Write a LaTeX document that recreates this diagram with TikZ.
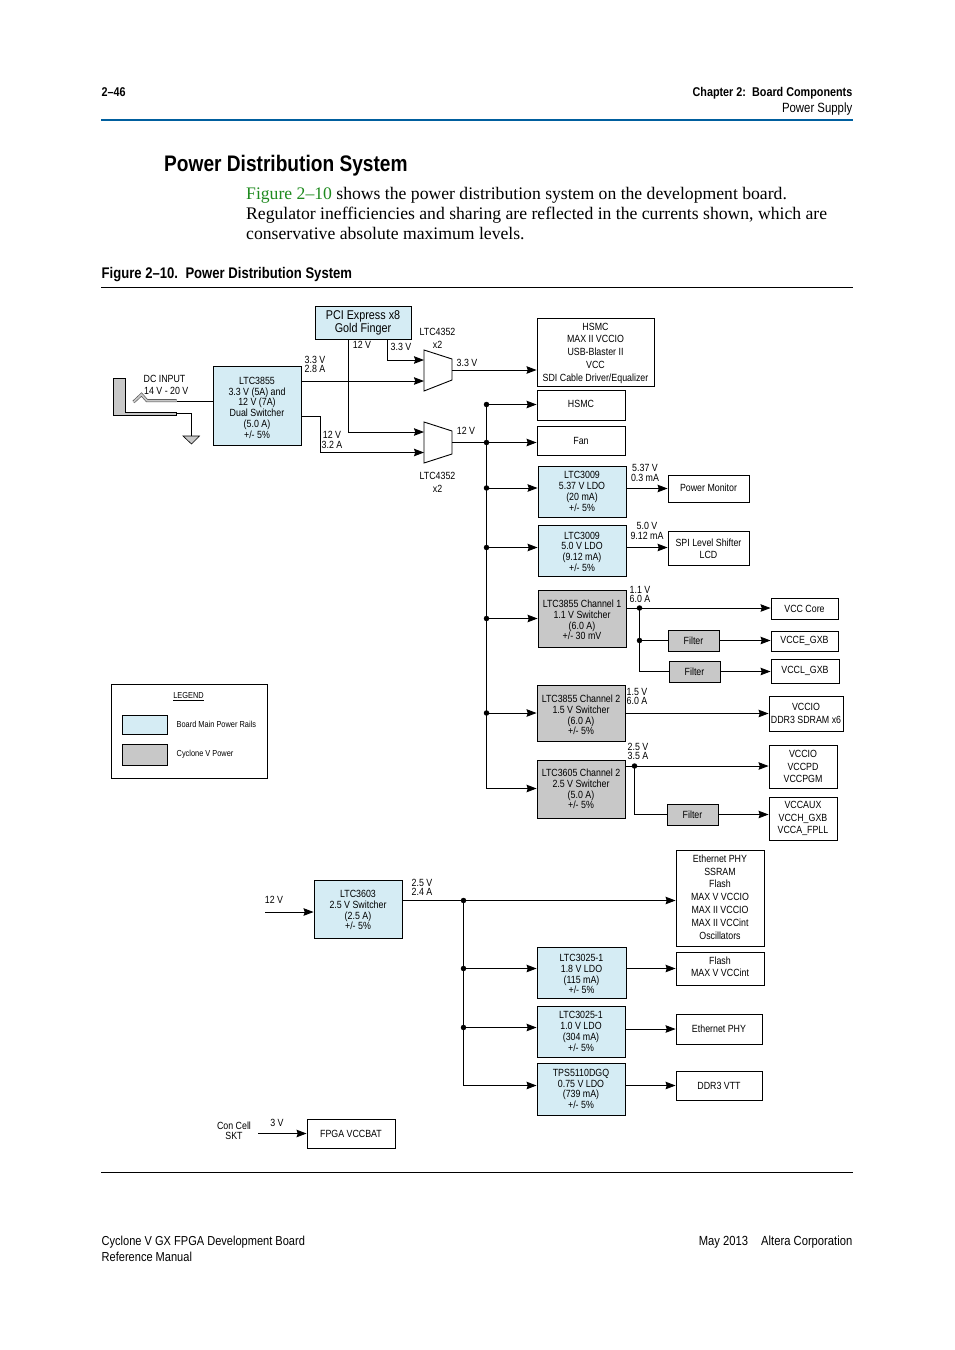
\documentclass[tikz,border=0pt]{standalone}
\usepackage{fontspec}
\setmainfont{Liberation Sans}[FakeStretch=0.85]
\newfontfamily\headfont{Liberation Sans Bold}[FakeStretch=0.85]
\newfontfamily\bodyfont{Liberation Serif}
\usetikzlibrary{arrows.meta}
\definecolor{railblue}{HTML}{D5ECF4}
\definecolor{fpgagray}{HTML}{C8C8C8}
\definecolor{rulefill}{HTML}{005F9E}
\definecolor{linkgreen}{HTML}{1E8A1E}
\tikzset{
  x=1pt,y=-1pt,
  box/.style={draw,line width=0.9pt,inner sep=0pt,align=center,font=\fontsize{10.4}{10.8}\selectfont},
  rail/.style={box,fill=railblue},
  cyc/.style={box,fill=fpgagray},
  wide/.style={font=\fontsize{10.4}{12.8}\selectfont},
  lbl/.style={inner sep=0pt,align=center,font=\fontsize{10.4}{9.6}\selectfont},
  wire/.style={line width=0.9pt},
  pwr/.style={wire,-{Stealth[length=10pt,width=7.5pt,inset=1.2pt]}},
  jdot/.style={circle,fill,inner sep=0pt,minimum size=5.5pt},
  pagetxt/.style={inner sep=0pt,anchor=base west},
}
\newcommand{\boxat}[7][rail]{\node[#1,minimum width=#4-#2,minimum height=#6-#5] (#3) at ({(#2+#4)/2},{(#5+#6)/2}) {#7};}
\newcommand{\dn}[1]{\rule{0pt}{#1}}
\newcommand{\up}[1]{\rule[-#1]{0pt}{#1}}
\begin{document}
\begin{tikzpicture}
\useasboundingbox (0,0) rectangle (954,1350);

\node[pagetxt,font=\headfont\fontsize{12.7}{13}\selectfont] (pageno) at (101.5,96) {2–46};
\node[pagetxt,anchor=base east,font=\headfont\fontsize{12.7}{13}\selectfont] (chap) at (852.5,96) {Chapter 2:\, Board Components};
\node[pagetxt,anchor=base east,font=\fontsize{13.4}{14}\selectfont] (sect) at (852.5,112) {Power Supply};
\coordinate (ruletl) at (101,120);
\coordinate (ruletr) at (853,120);
\draw[rulefill,line width=1.6pt] (ruletl) -- (ruletr);
\node[pagetxt,font=\headfont\fontsize{22.5}{25}\selectfont] (title) at (164,171) {Power Distribution System};
\node[pagetxt,font=\bodyfont\fontsize{17.65}{20}\selectfont] (para1) at (246,199) {\textcolor{linkgreen}{Figure 2–10} shows the power distribution system on the development board.};
\node[pagetxt,font=\bodyfont\fontsize{17.65}{20}\selectfont] (para2) at (246,219) {Regulator inefficiencies and sharing are reflected in the currents shown, which are};
\node[pagetxt,font=\bodyfont\fontsize{17.65}{20}\selectfont] (para3) at (246,239) {conservative absolute maximum levels.};
\node[pagetxt,font=\headfont\fontsize{15.4}{16}\selectfont] (figcap) at (101.5,278) {Figure 2–10.\, Power Distribution System};
\coordinate (rulecl) at (101,287);
\coordinate (rulecr) at (853,287);
\draw[wire] (rulecl) -- (rulecr);

\boxat[rail,font=\fontsize{12.7}{13}\selectfont]{315}{pcie}{411}{306}{339}{PCI Express x8\\Gold Finger}
\boxat{213}{ltcmain}{301}{366}{445}{\dn{11.5pt}LTC3855\\3.3 V (5A) and\\12 V (7A)\\Dual Switcher\\(5.0 A)\\+/- 5\%}
\boxat[box,wide]{537}{hsmcbig}{654}{318}{386}{\dn{9.5pt}HSMC\\MAX II VCCIO\\USB-Blaster II\\VCC\\SDI Cable Driver/Equalizer}
\boxat[box]{537}{hsmc}{625}{390}{420}{HSMC\up{2pt}}
\boxat[box]{537}{fan}{625}{426}{455}{Fan}
\boxat{538}{ldoa}{626}{466}{517}{LTC3009\\5.37 V LDO\\(20 mA)\\+/- 5\%}
\boxat[box]{668}{pwrmon}{749}{475}{502}{Power Monitor\up{2pt}}
\boxat{538}{ldob}{626}{525}{576}{\dn{9.5pt}LTC3009\\5.0 V LDO\\(9.12 mA)\\+/- 5\%}
\boxat[box,font=\fontsize{10.4}{12}\selectfont]{668}{spi}{749}{531}{565}{\dn{9.5pt}SPI Level Shifter\\LCD}
\boxat[cyc]{538}{chone}{626}{590}{647}{\dn{10.5pt}LTC3855 Channel 1\\1.1 V Switcher\\(6.0 A)\\+/- 30 mV}
\boxat[box]{771}{vcccore}{838}{598}{619}{VCC Core}
\boxat[cyc]{668}{filta}{719}{630}{651}{Filter}
\boxat[box]{771}{vcce}{838}{631}{651}{VCCE\_GXB}
\boxat[cyc]{669}{filtb}{720}{661}{682}{Filter}
\boxat[box]{771}{vccl}{839}{659}{683}{VCCL\_GXB}
\boxat[cyc]{537}{chtwo}{625}{685}{741}{\dn{11.5pt}LTC3855 Channel 2\\1.5 V Switcher\\(6.0 A)\\+/- 5\%}
\boxat[box,font=\fontsize{10.4}{12.8}\selectfont]{769}{ddrio}{843}{696}{731}{VCCIO\\DDR3 SDRAM x6}
\boxat[cyc]{537}{ltcsw}{625}{760}{818}{LTC3605 Channel 2\\2.5 V Switcher\\(5.0 A)\\+/- 5\%}
\boxat[box,wide]{769}{vccio}{837}{745}{788}{VCCIO\\VCCPD\\VCCPGM}
\boxat[box,wide]{769}{vccaux}{837}{797}{840}{VCCAUX\\VCCH\_GXB\\VCCA\_FPLL}
\boxat[cyc]{667}{filtc}{718}{804}{825}{Filter}

\boxat[box]{111}{legend}{267}{684}{778}{}
\boxat[rail]{122}{swblue}{167}{715}{734}{}
\boxat[cyc]{122}{swgray}{167}{744}{765}{}
\node[lbl,font=\fontsize{8.7}{9}\selectfont] (legtitle) at (188.5,696.5) {\underline{LEGEND}};
\node[lbl,anchor=west,font=\fontsize{8.7}{9}\selectfont] (legblue) at (176.5,724) {Board Main Power Rails};
\node[lbl,anchor=west,font=\fontsize{8.7}{9}\selectfont] (leggray) at (176.5,754) {Cyclone V Power};

\boxat[box,wide]{676}{ethlist}{764}{850}{946}{Ethernet PHY\\SSRAM\\Flash\\MAX V VCCIO\\MAX II VCCIO\\MAX II VCCint\\Oscillators\up{2pt}}
\boxat{314}{ltcthree}{402}{880}{938}{\dn{9.5pt}LTC3603\\2.5 V Switcher\\(2.5 A)\\+/- 5\%}
\boxat{537}{ldoc}{626}{947}{998}{\dn{10.5pt}LTC3025-1\\1.8 V LDO\\(115 mA)\\+/- 5\%}
\boxat[box,font=\fontsize{10.4}{12}\selectfont]{676}{flash}{764}{952}{985}{Flash\\MAX V VCCint\up{4pt}}
\boxat{537}{ldod}{625}{1006}{1057}{LTC3025-1\\1.0 V LDO\\(304 mA)\\+/- 5\%}
\boxat[box]{676}{ethphy}{762}{1014}{1044}{Ethernet PHY}
\boxat{537}{tps}{625}{1063}{1115}{TPS5110DGQ\\0.75 V LDO\\(739 mA)\\+/- 5\%}
\boxat[box]{676}{ddrvtt}{762}{1071}{1100}{DDR3 VTT}
\boxat[box]{307}{vccbat}{395}{1119}{1148}{FPGA VCCBAT}

\draw[wire] (424,350) coordinate (muxa) -- (452,359) -- (452,380) -- (424,391) -- cycle;
\draw[wire] (424,422) coordinate (muxb) -- (452,431) -- (452,454) -- (424,463) -- cycle;
\coordinate (muxaout) at (452,370);
\coordinate (muxbout) at (452,442.5);

\draw[black,fill=fpgagray,line width=0.9pt] (113.5,378.5) -- (125.5,378.5) -- (125.5,412) -- (176.5,412) -- (176.5,415.5) -- (113.5,415.5) -- cycle;
\draw[black!70,line width=3pt] (133.5,402) -- (141.5,394.5) -- (147,400.7) -- (176.5,400.7);
\draw[fpgagray,line width=1.8pt] (133.5,402) -- (141.5,394.5) -- (147,400.7) -- (176.5,400.7);
\coordinate (jacktip) at (176.5,401);
\coordinate (jackgnd) at (176.5,413.5);
\coordinate (gnd) at (191.5,436);
\draw[wire] (jacktip) -- (jacktip -| ltcmain.west);
\draw[wire] (jackgnd) -| (gnd);
\draw[black,fill=fpgagray,line width=0.6pt] (183,436) -- (199.5,436) -- (191.5,444) -- cycle;

\coordinate (pcitwelve) at (348,339);
\coordinate (pcithree) at (387,339);
\coordinate (inaa) at (424,360);
\coordinate (inab) at (424,381);
\coordinate (inba) at (424,432);
\coordinate (inbb) at (424,452.5);
\draw[pwr] (pcithree) |- (inaa);
\draw[pwr] (pcitwelve) |- (inba);
\draw[pwr] (inab -| ltcmain.east) -- (inab);
\coordinate (mainlow) at (301,416.5);
\draw[pwr] (mainlow) -- (320,416.5) |- (inbb);
\draw[pwr] (muxaout) -- (muxaout -| hsmcbig.west);

\node[jdot] (bushsmc) at (486.5,404.5) {};
\node[jdot] (busfan) at (486.5,442.5) {};
\node[jdot] (busldoa) at (486.5,488) {};
\node[jdot] (busldob) at (486.5,547.5) {};
\node[jdot] (busone) at (486.5,618.5) {};
\node[jdot] (bustwo) at (486.5,713) {};
\coordinate (busend) at (486.5,788.5);
\draw[wire] (bushsmc.center) -- (busend);
\draw[wire] (muxbout) -- (busfan.center);
\draw[pwr] (bushsmc.center) -- (bushsmc -| hsmc.west);
\draw[pwr] (busfan.center) -- (busfan -| fan.west);
\draw[pwr] (busldoa.center) -- (busldoa -| ldoa.west);
\draw[pwr] (busldob.center) -- (busldob -| ldob.west);
\draw[pwr] (busone.center) -- (busone -| chone.west);
\draw[pwr] (bustwo.center) -- (bustwo -| chtwo.west);
\draw[pwr] (busend) -- (busend -| ltcsw.west);

\draw[pwr] (pwrmon.west -| ldoa.east) -- (pwrmon.west);
\draw[pwr] (busldob -| ldob.east) -- (busldob -| spi.west);

\node[jdot] (onetop) at (639.5,608) {};
\node[jdot] (onemid) at (639.5,640.5) {};
\draw[wire] (onetop -| chone.east) -- (onetop.center);
\draw[pwr] (onetop.center) -- (onetop -| vcccore.west);
\draw[wire] (onetop.center) -- (onemid.center);
\draw[wire] (onemid.center) -- (onemid -| filta.west);
\draw[wire] (onemid.center) |- (filtb.west);
\draw[pwr] (filta.east) -- (filta.east -| vcce.west);
\draw[pwr] (filtb.east) -- (filtb.east -| vccl.west);
\draw[pwr] (chtwo.east |- ddrio.west) -- (ddrio.west);
\node[jdot] (swtop) at (634.5,766) {};
\draw[wire] (swtop -| ltcsw.east) -- (swtop.center);
\draw[pwr] (swtop.center) -- (swtop -| vccio.west);
\draw[wire] (swtop.center) |- (filtc.west);
\draw[pwr] (filtc.east) -- (filtc.east -| vccaux.west);

\coordinate (twelvein) at (265,912);
\draw[pwr] (twelvein) -- (twelvein -| ltcthree.west);
\node[jdot] (low) at (463.5,900.5) {};
\node[jdot] (lowc) at (463.5,968.5) {};
\node[jdot] (lowd) at (463.5,1027.5) {};
\coordinate (lowend) at (463.5,1085.5);
\draw[wire] (low -| ltcthree.east) -- (low.center);
\draw[pwr] (low.center) -- (low -| ethlist.west);
\draw[wire] (low.center) -- (lowend);
\draw[pwr] (lowc.center) -- (lowc -| ldoc.west);
\draw[pwr] (lowd.center) -- (lowd -| ldod.west);
\draw[pwr] (lowend) -- (lowend -| tps.west);
\draw[pwr] (flash.west -| ldoc.east) -- (flash.west);
\draw[pwr] (ethphy.west -| ldod.east) -- (ethphy.west);
\draw[pwr] (ddrvtt.west -| tps.east) -- (ddrvtt.west);
\coordinate (coincell) at (258,1133.5);
\draw[pwr] (coincell) -- (coincell -| vccbat.west);

\node[lbl,font=\fontsize{10.4}{12}\selectfont] (dcin) at (164.5,385) {DC INPUT\\\,\,14 V - 20 V};
\node[lbl] (lbmaina) at (315,364.5) {3.3 V\\2.8 A};
\node[lbl] (lbmainb) at (332,440) {12 V\\3.2 A};
\node[lbl] (lbpcia) at (362,345) {12 V};
\node[lbl] (lbpcib) at (401,346.5) {3.3 V};
\node[lbl,font=\fontsize{10.4}{13}\selectfont] (lbmuxa) at (437.5,338) {LTC4352\\x2};
\node[lbl,font=\fontsize{10.4}{13}\selectfont] (lbmuxb) at (437.5,482) {LTC4352\\x2};
\node[lbl] (lboa) at (467,363) {3.3 V};
\node[lbl] (lbob) at (466,431) {12 V};
\node[lbl] (lbldoa) at (645,473) {5.37 V\\0.3 mA};
\node[lbl] (lbldob) at (647,531) {5.0 V\\9.12 mA};
\node[lbl] (lbone) at (640,594.5) {1.1 V\\6.0 A};
\node[lbl] (lbtwo) at (637,696.5) {1.5 V\\6.0 A};
\node[lbl] (lbsw) at (638,751.5) {2.5 V\\3.5 A};
\node[lbl] (lblow) at (422,887.5) {2.5 V\\2.4 A};
\node[lbl] (lbtw) at (274,900) {12 V};
\node[lbl] (lbcell) at (234,1131) {Con Cell\\SKT};
\node[lbl] (lbthree) at (277,1122.5) {3 V};

\coordinate (rulebl) at (101,1172.5);
\coordinate (rulebr) at (853,1172.5);
\draw[line width=0.7pt] (rulebl) -- (rulebr);
\node[pagetxt,font=\fontsize{13}{14}\selectfont] (foota) at (101.5,1245) {Cyclone V GX FPGA Development Board};
\node[pagetxt,font=\fontsize{13}{14}\selectfont] (footb) at (101.5,1261) {Reference Manual};
\node[pagetxt,anchor=base east,font=\fontsize{13.2}{14}\selectfont] (footc) at (852.5,1245) {May 2013\quad Altera Corporation};
\end{tikzpicture}
\end{document}
